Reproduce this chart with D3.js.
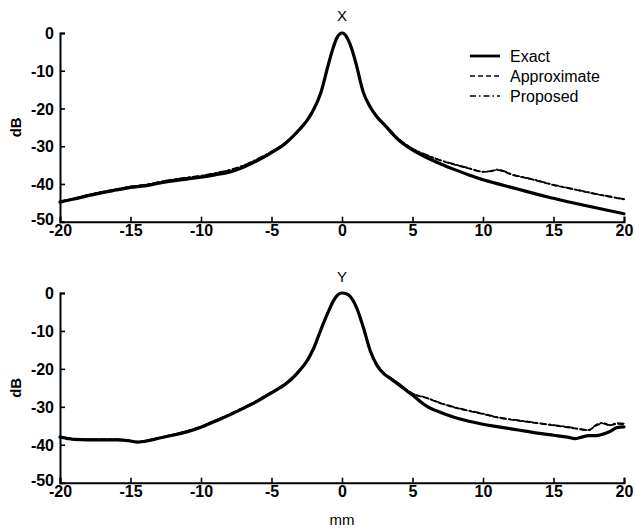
<!DOCTYPE html>
<html><head><meta charset="utf-8">
<script src="https://cdn.jsdelivr.net/npm/d3@7"></script>
<style>
html,body{margin:0;padding:0;background:#fff;}
svg{display:block;}
</style></head>
<body>
<script>
// ---- data ----
const panelTitles = ["X", "Y"];
const seriesNames = ["Exact", "Approximate", "Proposed"];
const xTicks = [-20, -15, -10, -5, 0, 5, 10, 15, 20];
const yTicks = [0, -10, -20, -30, -40, -50];

const xTop = [-20,-19,-18,-17,-16,-15,-14,-13,-12,-11,-10,-9,-8,-7,-6,-5,-4,-3,-2.5,-2,-1.5,-1,-0.7,-0.4,-0.15,0,0.15,0.4,0.7,1,1.5,2,2.5,3,4,5,6,7,8,9,10,10.5,11,11.5,12,13,14,15,16,17,18,19,20];
const topExact = [-44.8,-44.0,-43.1,-42.3,-41.6,-40.9,-40.5,-39.8,-39.2,-38.7,-38.2,-37.6,-36.9,-35.6,-33.8,-31.7,-29.2,-25.5,-23.3,-20.2,-15.8,-8.8,-4.8,-1.6,-0.2,0,-0.2,-1.5,-4.3,-8.2,-15.6,-19.6,-22.3,-24.3,-28.3,-31.0,-33.0,-34.7,-36.2,-37.6,-38.9,-39.4,-39.9,-40.4,-40.9,-41.9,-42.9,-43.8,-44.7,-45.5,-46.3,-47.1,-47.9];
const topApprox = [-44.7,-43.9,-42.9,-42.1,-41.4,-40.7,-40.3,-39.5,-38.9,-38.4,-37.9,-37.2,-36.4,-35.2,-33.5,-31.5,-29.0,-25.4,-23.2,-20.1,-15.7,-8.7,-4.7,-1.5,-0.2,0,-0.2,-1.4,-4.2,-8.1,-15.5,-19.5,-22.2,-24.2,-28.1,-30.7,-32.4,-33.8,-34.9,-35.9,-36.8,-36.7,-36.3,-36.7,-37.5,-38.4,-39.3,-40.3,-41.1,-41.9,-42.7,-43.4,-44.1];
const topProposed = [-44.6,-43.8,-42.9,-42.1,-41.4,-40.7,-40.2,-39.5,-38.8,-38.3,-37.8,-37.1,-36.3,-35.1,-33.4,-31.4,-29.0,-25.3,-23.1,-20.0,-15.6,-8.7,-4.7,-1.5,-0.2,0,-0.2,-1.4,-4.2,-8.1,-15.4,-19.4,-22.1,-24.1,-28.0,-30.6,-32.3,-33.7,-34.8,-35.8,-36.7,-36.6,-36.2,-36.6,-37.4,-38.3,-39.2,-40.2,-41.0,-41.8,-42.6,-43.3,-44.0];

const xBot = [-20,-19.5,-19,-18,-17,-16,-15,-14.5,-14,-13,-12,-11,-10,-9,-8,-7,-6,-5,-4,-3.5,-3,-2.5,-2,-1.5,-1,-0.6,-0.3,0,0.3,0.6,1,1.5,2,2.5,3,3.5,4,5,6,7,8,9,10,11,12,13,14,15,16,16.5,17,17.5,18,18.5,19,19.5,20];
const botExact = [-38,-38.3,-38.6,-38.7,-38.7,-38.7,-39,-39.3,-39.1,-38.3,-37.5,-36.6,-35.4,-33.8,-32.2,-30.4,-28.5,-26.3,-24,-22.4,-20.4,-18,-14.5,-9.7,-5.2,-2,-0.5,0,-0.2,-1,-3.6,-8.9,-15.2,-19.2,-21.4,-22.7,-24.1,-26.9,-29.8,-31.5,-32.8,-33.8,-34.6,-35.2,-35.8,-36.4,-37,-37.5,-38,-38.4,-38,-37.6,-37.6,-37.2,-36.5,-35.5,-35.3];
const botApprox = [-38,-38.2,-38.5,-38.6,-38.6,-38.6,-38.9,-39.2,-39.0,-38.2,-37.3,-36.4,-35.2,-33.6,-32.0,-30.2,-28.3,-26.1,-23.8,-22.2,-20.3,-17.9,-14.4,-9.6,-5.1,-2,-0.5,0,-0.2,-1,-3.5,-8.8,-15.0,-19.0,-21.2,-22.5,-23.8,-26.5,-27.7,-29.1,-30.2,-31.1,-31.9,-32.8,-33.4,-33.9,-34.4,-34.9,-35.4,-35.7,-36.0,-36.1,-35.0,-34.4,-34.9,-34.5,-34.6];
const botProposed = [-38,-38.2,-38.5,-38.6,-38.6,-38.6,-38.9,-39.2,-39.0,-38.2,-37.3,-36.4,-35.2,-33.6,-32.0,-30.2,-28.3,-26.1,-23.8,-22.2,-20.3,-17.9,-14.4,-9.6,-5.1,-2,-0.5,0,-0.2,-1,-3.5,-8.8,-15.0,-19.0,-21.2,-22.5,-23.8,-26.5,-27.6,-29.0,-30.1,-31.0,-31.8,-32.7,-33.3,-33.8,-34.3,-34.8,-35.3,-35.6,-35.9,-36.2,-34.8,-34.2,-34.8,-34.3,-34.4];

// ---- drawing ----
const W = 635, H = 528;
const svg = d3.select("body").append("svg").attr("width", W).attr("height", H)
  .style("font-family", "'Liberation Sans', Arial, Helvetica, sans-serif");

const x = d3.scaleLinear().domain([-20, 20]).range([60, 624]);
const panels = [
  {title: panelTitles[0], xs: xTop, series: [topExact, topApprox, topProposed], top: 33, bottom: 221.7, titleY: 21},
  {title: panelTitles[1], xs: xBot, series: [botExact, botApprox, botProposed], top: 293, bottom: 482.7, titleY: 282}
];
const styles = [
  {w: 3.2, dash: null},
  {w: 1.7, dash: "5,3"},
  {w: 1.7, dash: "6,3,1.5,3"}
];
const fmt = d => String(d);

panels.forEach((p, pi) => {
  const y = d3.scaleLinear().domain([-50, 0]).range([p.bottom, p.top]);
  const g = svg.append("g");

  // curves
  const line = d3.line().x((d, i) => x(p.xs[i])).y(d => y(d)).curve(d3.curveMonotoneX);
  [2, 1, 0].forEach(si => {
    g.append("path").datum(p.series[si]).attr("d", line)
      .attr("fill", "none").attr("stroke", "#000")
      .attr("stroke-width", styles[si].w)
      .attr("stroke-dasharray", styles[si].dash)
      .attr("stroke-linejoin", "round").attr("stroke-linecap", "round");
  });

  // axes
  const ax = g.append("g").attr("transform", `translate(0,${p.bottom})`)
    .call(d3.axisBottom(x).tickValues(xTicks).tickSize(-5).tickPadding(4).tickFormat(fmt));
  const ay = g.append("g").attr("transform", `translate(60,0)`)
    .call(d3.axisLeft(y).tickValues(yTicks).tickSize(-5).tickPadding(6).tickFormat(fmt));
  [ax, ay].forEach(a => {
    a.select(".domain").attr("stroke-width", 2).attr("stroke", "#000");
    a.selectAll(".tick line").attr("stroke-width", 1.6).attr("stroke", "#000");
    a.selectAll(".tick text").attr("font-size", 16).attr("font-weight", "bold")
      .attr("fill", "#000").style("font-family", "'Liberation Sans', Arial, sans-serif");
  });
  ax.selectAll(".tick text").attr("dy", "0.62em");
  ay.selectAll(".tick text").attr("dy", d => d === -50 ? "0.15em" : "0.35em");

  // title
  g.append("text").attr("x", x(0)).attr("y", p.titleY).attr("text-anchor", "middle")
    .attr("font-size", 15).text(p.title);
  // y label
  g.append("text").attr("transform", `translate(21,${(p.top + p.bottom) / 2}) rotate(-90)`)
    .attr("text-anchor", "middle").attr("font-size", 15).attr("font-weight", "bold").text("dB");
});

// x label
svg.append("text").attr("x", x(0)).attr("y", 525).attr("text-anchor", "middle")
  .attr("font-size", 15).text("mm");

// legend
const lg = svg.append("g");
const legY = [56, 76, 96];
seriesNames.forEach((n, i) => {
  lg.append("line").attr("x1", 470).attr("x2", 500).attr("y1", legY[i]).attr("y2", legY[i])
    .attr("stroke", "#000").attr("stroke-width", i === 0 ? 2.8 : 1.7)
    .attr("stroke-dasharray", styles[i].dash);
  lg.append("text").attr("x", 510).attr("y", legY[i]).attr("dy", "0.35em")
    .attr("font-size", 16).text(n);
});
</script>
</body></html>
